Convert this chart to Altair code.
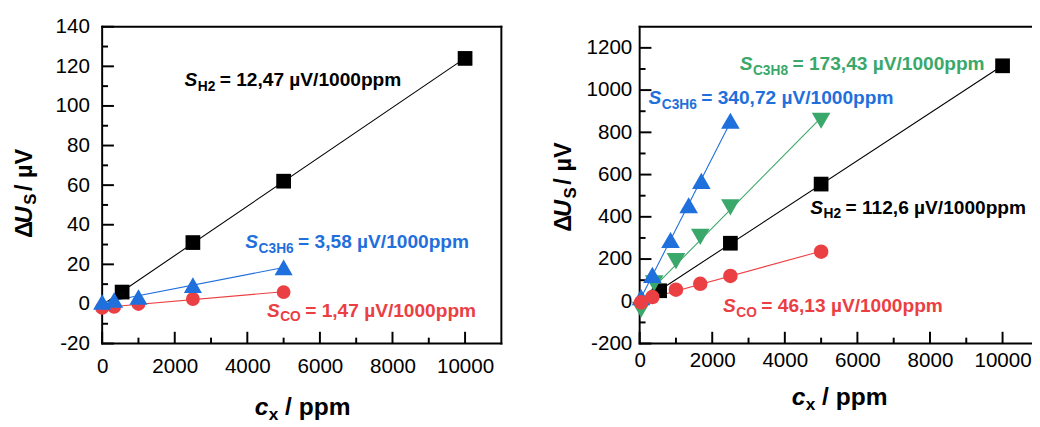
import altair as alt
import pandas as pd

FONT = "Liberation Sans"
INK = "#000000"
BLACK, BLUE, RED, GREEN = "#000000", "#1f6fdc", "#eb4043", "#3aa86a"

# ---------------- data: left panel ----------------
L_H2_X = [550, 2500, 5000, 10000]
L_H2_Y = [6.0, 31.0, 62.0, 124.0]
L_C3H6_X = [0, 330, 1000, 2500, 5000]
L_C3H6_Y = [1.0, 2.0, 3.5, 9.5, 18.5]
L_CO_X = [0, 330, 1000, 2500, 5000]
L_CO_Y = [-2.0, -1.5, 0.0, 2.5, 6.0]

# ---------------- data: right panel ----------------
R_H2_X = [550, 2500, 5000, 10000]
R_H2_Y = [50, 275, 555, 1115]
R_C3H8_X = [40, 400, 1000, 1670, 2500, 5000]
R_C3H8_Y = [-40, 85, 190, 305, 445, 855]
R_C3H6_X = [40, 350, 850, 1350, 1700, 2500]
R_C3H6_Y = [20, 125, 290, 455, 570, 855]
R_CO_X = [40, 350, 1000, 1670, 2500, 5000]
R_CO_Y = [-5, 20, 55, 83, 120, 235]

# ---------------- ticks ----------------
X_MAJOR = [0, 2000, 4000, 6000, 8000, 10000]
X_MINOR = [1000, 3000, 5000, 7000, 9000]
L_Y_MAJOR = [-20, 0, 20, 40, 60, 80, 100, 120, 140]
L_Y_MINOR = [-10, 10, 30, 50, 70, 90, 110, 130]
R_Y_MAJOR = [-200, 0, 200, 400, 600, 800, 1000, 1200]
R_Y_MINOR = [-100, 100, 300, 500, 700, 900, 1100]

# ---------------- annotation texts ----------------
L_ANNOT = [("H2", "= 12,47 µV/1000ppm", BLACK),
           ("C3H6", "= 3,58 µV/1000ppm", BLUE),
           ("CO", "= 1,47 µV/1000ppm", RED)]
R_ANNOT = [("C3H8", "= 173,43 µV/1000ppm", GREEN),
           ("C3H6", "= 340,72 µV/1000ppm", BLUE),
           ("H2", "= 112,6 µV/1000ppm", BLACK),
           ("CO", "= 46,13 µV/1000ppm", RED)]

# layout (pixels, relative to each plot area)
L_ANNOT_POS = [(84, 60.5), (146, 225.5), (168, 295.5)]
R_ANNOT_POS = [(102, 44), (9, 79), (174, 190.5), (85, 290.5)]

W = {"H": 0.722, "C": 0.722, "O": 0.778, "2": 0.556, "3": 0.556, "6": 0.556, "8": 0.556}


def bar_path(length, thick, horizontal):
    t = thick / length
    if horizontal:
        return f"M-1,{-t:.5f}L1,{-t:.5f}L1,{t:.5f}L-1,{t:.5f}Z"
    return f"M{-t:.5f},-1L{t:.5f},-1L{t:.5f},1L{-t:.5f},1Z"


def bar(cx, cy, length, horizontal, thick=2):
    return alt.Chart(alt.Data(values=[{"a": 1}])).mark_point(
        shape=bar_path(length, thick, horizontal), filled=True, color=INK,
        opacity=1, size=length ** 2, strokeWidth=0,
    ).encode(x=alt.value(cx), y=alt.value(cy))


def txt(x, y, s, color, size, italic=False, angle=0, dx=0, dy=0, weight="bold"):
    return alt.Chart(alt.Data(values=[{"t": s}])).mark_text(
        color=color, fontSize=size, font=FONT, fontWeight=weight,
        fontStyle="italic" if italic else "normal", angle=angle,
        align="left", baseline="alphabetic", dx=dx, dy=dy,
    ).encode(x=alt.value(x), y=alt.value(y), text="t:N")


def annot(x, y, sub, rest, color, size=19.5, subsize=14):
    sw = 0.667 * size
    subw = sum(W[c] for c in sub) * subsize
    return [txt(x, y, "S", color, size, italic=True),
            txt(x + sw + 0.5, y + 5, sub, color, subsize),
            txt(x + sw + subw + 5, y, rest, color, size)]


def xtitle(x, y):
    return [txt(x, y, "c", BLACK, 25, italic=True),
            txt(x + 14.4, y + 5, "x", BLACK, 17.5),
            txt(x + 31, y, "/ ppm", BLACK, 25)]


def ytitle(x, y):
    return [txt(x, y, "Δ", BLACK, 24, angle=270),
            txt(x, y, "U", BLACK, 24, italic=True, angle=270, dx=15),
            txt(x, y, "S", BLACK, 17, angle=270, dx=34, dy=5),
            txt(x, y, "/ µV", BLACK, 24, angle=270, dx=48)]


def panel(series, xmax, ydom, w, h, ymaj, ymin, pad_x, pad_y, annots, apos, ytpos, xtpos,
          right_edge=True):
    axis_common = dict(title=None, ticks=False, domain=False, grid=False,
                       labelExpr="'' + datum.value", labelFont=FONT, labelFontSize=21,
                       labelColor=INK, labelFlush=False)
    X = alt.X("x:Q", scale=alt.Scale(domain=[0, xmax], nice=False, zero=False),
              axis=alt.Axis(values=X_MAJOR, labelPadding=pad_x, **axis_common))
    Y = alt.Y("y:Q", scale=alt.Scale(domain=ydom, nice=False, zero=False),
              axis=alt.Axis(values=ymaj, labelPadding=pad_y, **axis_common))
    layers = []
    # frame (filled bars)
    hlen = w + 2 if right_edge else w + 4
    layers.append(bar(hlen / 2 - 1, 0, hlen, True))
    layers.append(bar(hlen / 2 - 1, h, hlen, True))
    layers.append(bar(0, h / 2, h + 2, False))
    if right_edge:
        layers.append(bar(w, h / 2, h + 2, False))
    # inward ticks (filled bars)
    for vals, ln in ((ymaj, 12), (ymin, 6)):
        layers.append(alt.Chart(pd.DataFrame({"y": vals})).mark_point(
            shape=bar_path(ln, 2, True), filled=True, color=INK, opacity=1,
            size=ln ** 2, strokeWidth=0).encode(y=Y, x=alt.value(ln / 2)))
    for vals, ln in ((X_MAJOR, 12), (X_MINOR, 6)):
        layers.append(alt.Chart(pd.DataFrame({"x": vals})).mark_point(
            shape=bar_path(ln, 2, False), filled=True, color=INK, opacity=1,
            size=ln ** 2, strokeWidth=0).encode(x=X, y=alt.value(h - ln / 2)))
    # fit lines
    for xs, ys, color, shape, size, ext in series:
        layers.append(alt.Chart(pd.DataFrame({"x": xs, "y": ys}))
                      .transform_regression("x", "y", extent=ext)
                      .mark_line(color=color, strokeWidth=1.1).encode(x=X, y=Y))
    # markers
    for xs, ys, color, shape, size, ext in series:
        layers.append(alt.Chart(pd.DataFrame({"x": xs, "y": ys}))
                      .mark_point(shape=shape, filled=True, opacity=1, size=size,
                                  color=color, strokeWidth=0).encode(x=X, y=Y))
    for (sub, rest, color), (ax, ay) in zip(annots, apos):
        layers += annot(ax, ay, sub, rest, color)
    layers += ytitle(*ytpos)
    layers += xtitle(*xtpos)
    return alt.layer(*layers).properties(width=w, height=h)


SQ, TU, TD, CI = "square", "triangle-up", "triangle-down", "circle"

left = panel(
    [(L_H2_X, L_H2_Y, BLACK, SQ, 225, [0, 10000]),
     (L_CO_X, L_CO_Y, RED, CI, 200, [0, 5000]),
     (L_C3H6_X, L_C3H6_Y, BLUE, TU, 340, [0, 5000])],
    11000, [-20, 140], 407, 323, L_Y_MAJOR, L_Y_MINOR, 13, 13,
    L_ANNOT, L_ANNOT_POS, (-72, 215.5), (155.5, 396))

right = panel(
    [(R_H2_X, R_H2_Y, BLACK, SQ, 225, [0, 10000]),
     (R_C3H8_X, R_C3H8_Y, GREEN, TD, 360, [0, 5000]),
     (R_C3H6_X, R_C3H6_Y, BLUE, TU, 360, [0, 2500]),
     (R_CO_X, R_CO_Y, RED, CI, 220, [0, 5000])],
    10730, [-200, 1300], 397, 323, R_Y_MAJOR, R_Y_MINOR, 6, 8,
    R_ANNOT, R_ANNOT_POS, (-69.5, 209), (155, 386), right_edge=False)

chart = (alt.hconcat(left, right, spacing=51)
         .properties(padding={"left": 5, "top": 4, "right": 0, "bottom": 0})
         .configure_view(strokeWidth=0, strokeOpacity=0))

chart.save("out.html", embed_options={"renderer": "svg", "actions": False})
